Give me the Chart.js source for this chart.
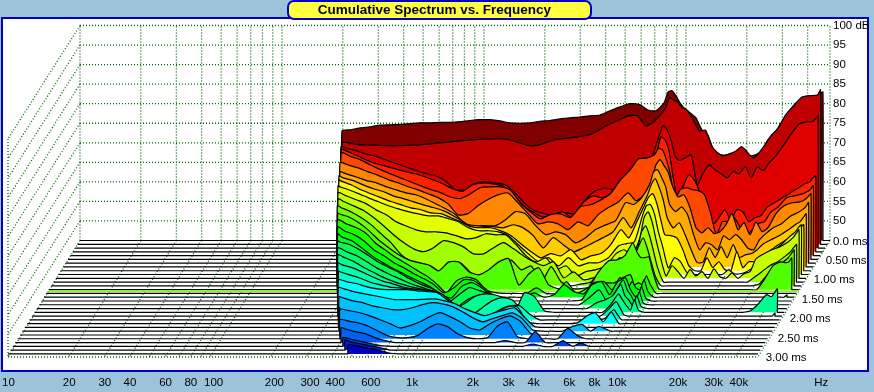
<!DOCTYPE html>
<html><head><meta charset="utf-8"><style>html,body{margin:0;padding:0;background:#9DC3DB}canvas{display:block}</style>
<script src="https://cdn.jsdelivr.net/npm/chart.js@4"></script></head><body>
<canvas id="c" width="874" height="392"></canvas>
<script>
const hzTicks=[10,20,30,40,60,80,100,200,300,400,600,1000,2000,3000,4000,6000,8000,10000,20000,30000,40000,105000];
const hzLabels=['10','20','30','40','60','80','100','200','300','400','600','1k','2k','3k','4k','6k','8k','10k','20k','30k','40k','Hz'];
const dbTicks=[100,95,90,85,80,75,70,65,60,55,50];
const timeLabels=['0.0 ms','0.50 ms','1.00 ms','1.50 ms','2.00 ms','2.50 ms','3.00 ms'];
const timeTicks=[0,0.5,1,1.5,2,2.5,3];
const gridHz=[10,20,30,40,50,60,70,80,90,100,200,300,400,500,600,700,800,900,1000,2000,3000,4000,5000,6000,7000,8000,9000,10000,20000,30000,40000,51600];
const freqHz=[198,217,243,273,306,343,384,430,482,540,606,679,761,852,955,1070,1200,1345,1507,1689,1893,2122,2378,2665,2987,3348,3752,4205,4713,5282,5920,6485,7104,7782,8147,8525,8926,9340,9775,10466,11207,12002,12851,13761,14735,15780,16894,18090,19370,20747,22210,23780,25466,27270,29200,31990,35050,38420,42050,44510,46060,47650];
const startHz=[198,204,207,213,219,222,228,232,238,242,249,256,261,269,276,284,292,300,309,318,327,338,348,357,369,382,394,410,431,453,482];
const sliceColors=['#800000','#C00000','#E00000','#FF2000','#FF4800','#FF8800','#FFAA00','#FFCC00','#FFFF00','#E4FF00','#C8FF00','#A0FF00','#70FF00','#50FF00','#20FF00','#00FF00','#00FF30','#00FF50','#00FF70','#00FF90','#00FFB0','#00FFD0','#00FFFF','#00E0FF','#00C0FF','#00A0FF','#0080FF','#0060F0','#0040E0','#0020D0','#0000C0'];
const slice00=[73,73.3,73.8,74.1,74.5,74.6,74.7,74.9,75.1,75.1,75.2,75.2,75.4,75.7,75.9,75.9,75.6,75.1,75,75.1,75.5,75.7,76.1,76.4,76.6,76.9,77.1,78.2,79.2,80,79.7,78.4,78.2,80.2,83,83.3,82,80.2,78.9,77.7,76.4,73.3,71.9,67.9,66.9,66.9,67.4,68,68.5,66.7,67,67.9,70.8,72.3,74.6,77.7,80.2,81.7,82,81.9,82.5,83];
const slice01=[71,71,70.5,70.4,70.3,70.2,70.2,70.3,70.4,70.6,70.9,71.1,71.4,71.6,71.8,71.9,72,71.8,71.1,70.3,70.3,71.2,71.9,72.1,72.5,72.9,74,75.5,76.6,77.8,77.9,75.3,76.3,78.4,79.9,82.5,81.9,81.4,80.1,79.2,76.6,74,74.2,70.2,68.4,67.6,68.1,68.8,70,68.4,67.1,68.6,70.7,73,74.5,78.1,80.4,82.6,83,83.1,83.2,84.5];
const slice02=[70.9,70.6,70,69.1,68.5,67.6,66.7,65.8,64.9,64.1,63.5,62.2,60,59.9,61.5,62,61.6,61.2,59.1,56.3,54.5,53.8,53,54,53.8,57.3,59.6,60.3,59.9,61.2,66.8,68,68.2,73.7,76.3,75.2,72.5,68.4,67.4,68.1,68.9,61.2,64.2,66.3,65,64,63,64.6,64,65.8,63,65.8,64.8,66.8,68.4,71.2,74.2,76.8,77.3,77.3,78,78.8];
const slice03=[71.3,71.2,70.1,68.9,67.8,67.1,66.4,65.7,65.1,64.4,63.4,62.4,61.1,60.5,62.2,62.6,62.4,61.8,59.9,57,55.2,53.9,54.5,55.2,53.7,57.5,59.3,58.8,60.4,63.4,66,67.5,68,70.6,74.4,73.7,71.1,64.7,59.6,61.6,64.7,63.2,59.6,55.2,51.9,53.7,55.8,53.2,55.8,55.2,52.7,53.7,54.2,56.3,57.3,58.6,59.8,61.1,62.4,62.9,63.9,64.4];
const slice04=[null,71.3,70.4,69.5,68.2,67,65.9,64.9,63.9,62.9,61.9,61.1,60,59.6,60.8,62.4,62.6,62.6,61.8,58.5,56.2,54.4,55.5,55.7,54.7,57.5,58,59.2,60.8,64.4,67,69.8,69.9,70.8,72.4,72.1,69.5,65.7,59.3,61.9,62.4,61.9,61.6,60.6,56,50.3,53.7,53.7,54.7,52.1,50.3,51.6,53.2,53.7,56,57.5,59.8,60.3,60.8,61.4,61.9,62.9];
const slice05=[null,69.7,69.2,68.4,67.4,66.5,65.4,64.6,63.6,62.8,61.8,60.8,59.2,56.4,56.7,58.7,60.3,61.5,62,59.5,56.7,54.1,54.6,54.1,52.6,54.6,53.6,56.4,58.2,59.6,62,60,61.5,65.6,69.2,70.5,69,67.4,64.1,61,61.5,58.2,53.1,51.8,53.1,51.6,52.1,53.9,56.7,52.6,54.4,51.3,54.6,52.1,53.1,56.7,58.7,59.5,59.7,60.3,61,61.8];
const slice06=[null,68.4,67.9,67.1,66.2,65.6,64.6,63.8,63,62.5,61.5,60.2,58.9,57.4,55.1,54.6,54.6,54.6,56.1,58.2,57.6,54.6,52.3,53,52.3,50.2,51.5,53.6,54.8,55.9,60.5,60,61.7,65.1,68.4,68.9,66.9,64.6,60,58.2,59.4,57.4,52.3,48.4,50.2,49.7,48.4,52,51,52.3,51,48.9,48.4,51,52.5,54.1,55.1,56.9,57.9,58.7,59.4,60.5];
const slice07=[null,68.3,67.8,67.1,66,65,64.3,63.2,62.5,61.7,60.9,60.2,59.4,58.1,56.6,55,55.3,55.3,55,55.8,55,53,49.9,52.5,50.7,48.9,49.9,51.2,52.5,54,57.6,55,59.1,63.2,66,67.6,65.3,62.2,57.6,55,56.3,53.2,49.4,46.1,46.3,49.9,47.4,50.2,47.4,50.7,47.4,48.1,48.4,49.4,50.9,52,53,54.3,55.8,56.6,57.6,58.6];
const slice08=[null,68.3,68,67,65.7,64.7,63.7,62.7,61.9,61.1,60.6,59.8,59.6,58.6,57.5,56.3,56,56,55.2,54,51.9,49.9,48.3,49.4,48.8,50.4,47.8,48.8,49.4,51.7,55.5,53.4,57.5,61.9,63.9,64.7,62.2,58,54.2,54,53.4,50.4,46.3,45,45,48.3,45.8,47.3,45.3,45,49.9,45.8,47.3,47.3,48.3,49.9,51.4,52.7,54,55,56,56.8];
const slice09=[null,67.7,67.6,66.7,65.7,64.6,63.6,62.6,61.8,61.1,60.5,60,60,59.3,58.5,57,56.2,56.2,55.9,54.9,52.6,50.3,48.3,49.3,47.2,49.3,47.2,48,48,49.3,52.3,52.9,53.4,60,62.6,62.9,60.5,55.9,52.4,46.7,49.3,48.3,45.7,45,45,45,45,45,45,46.2,45.2,45.2,45.7,46.7,48.3,49.3,51.3,52.9,54.9,55.9,57,57.7];
const slice10=[null,null,66.9,66.1,65.1,64.1,62.5,61.3,59.5,58.4,57.4,56.9,56.9,56.6,55.9,55.1,55.4,56.4,56.1,56.1,53.6,50.8,49.2,50.2,47.2,48.2,45.6,46.7,47.2,48.2,51.3,52.3,50.8,55.4,60.5,62,59.5,54.9,50.8,45.6,48.2,46.7,45,47.2,45.6,46.7,45,47.4,45.4,45,46.4,45,46.2,46.7,50,51.3,52.3,53.1,54.3,55.4,56.4,57.4];
const slice11=[null,null,66.3,65.6,64.5,63.3,61.5,59.4,57.1,55.1,53.5,52.8,53.8,55.6,55.1,54,52.2,52.2,53.8,55.1,53.5,51.7,50.2,49.2,50.2,46.1,47.6,45.6,46.1,47.1,49.4,51.2,50.2,53.8,57.9,59.4,56.8,52.8,48.7,45,45,45,45,45,45,45,45,45,45,45,45,45,45,45,46.1,47.6,49.2,50.2,51.7,52.8,53.8,54.6];
const slice12=[null,null,65.5,65,63.9,62.4,60.6,58.3,56,53,51.3,50.6,50,48.5,50.8,50.8,48.3,47.5,48.8,50.8,51.6,49.1,50.1,46,49.9,46,45,45.5,46,49.1,48.6,52.2,50.6,53.2,55.5,57.3,54.7,51.1,47.6,45,45,45,45,45,45,45,45,45,45,45,45,45,45,45,45,45.5,47.8,49.6,51.1,52.2,53.2,54.2];
const slice13=[null,null,64.7,64.4,63.6,62.1,60.1,57.7,55.7,53.9,52.6,51.9,51.3,49.8,52.1,52.1,49.6,48.8,50.1,52.1,52.9,46.2,49,50.6,46.2,45.2,45.2,45.2,45.7,49.6,52.4,52.6,53.7,57,54.7,53.2,53.2,53.4,49.6,45.2,45,45,45,45,45,45,45,45,45,45,45,45,45,45,45,45,47.8,51.1,52.1,51.9,52.1,53.1];
const slice14=[null,null,null,63.8,62.8,61.8,60.3,57.7,55.9,54.1,52.6,51,49.5,47.5,45.2,48.2,49.2,48.5,45.9,45.2,45,45,45,46.4,45,45,48,45,46.2,47.2,47.7,47.7,49,49.8,47.2,47.7,47.2,49.5,47.2];
const slice15=[null,null,null,63,62,61,59.4,57.1,55.6,53.8,52.5,51,49.7,48.2,46.1,47.4,49.5,49.2,47.4,45.4,45,45,45,46.1,45,45.6,48.2,46.4,45.9,48.7,49,46.9,50,47.4,49,47.4,46.9,49.5,46.4,45,45,45,45,45,45,45,45,45,45,45,45,45,45,45,45,45,45,45,45,45,45,45.6];
const slice16=[null,null,null,62.2,61.4,60.4,58.6,56.6,55,53.5,52.2,50.9,49.7,48.4,46.6,45.8,48.7,49.7,48.4,46.3,45,45,45,45,45,45,45,45,45.3,49.1,49.9,46.6,49.9,50.9,48.4,46.6,45.8,48.7,45.8];
const slice17=[null,null,null,61.4,61.1,60.4,59.1,57.5,55.8,54.5,53.2,51.7,50.4,49.4,48.1,45.8,47.6,49.4,48.6,47.8,45.5,45,45,45,45,45,45,45,45,46.8,48.8,45.8,48.3,51.4,48.8,47.3,45.5,48.3,45.5];
const slice18=[null,null,null,null,60.5,59.5,58.5,57,55.4,54.1,52.9,51.8,50.8,50,49,45.9,45.4,47.2,48.3,48.5,47.2,45.2,45,45,45,45,45,45,45,45,46.5,47.2,48.3,51.1,48.3,47.2,45.7,48.3,45.7];
const slice19=[null,null,null,null,59.7,59,57.9,56.4,55.1,53.8,52.8,52,51.3,50.8,49.7,48.2,46.2,47.2,49,49.7,49.5,48.5,45,50,49,45.4,45,45,45,45,45,45,46.9,49.7,48.2,46.7,45.6,48.2,45.6,45,45,45,45,45,45,45,45,45,45,45,45,45,45,45,45,45,45.4,47.2,49.5,49,50,51];
const slice20=[null,null,null,null,58.6,58.1,57.4,56.3,55.1,54,53.3,52.5,52,51.7,51.5,50.2,47.6,45,45.3,47.1,48.9,49.7,49.2,46.6,45,45,45,45,45,45,45,45,46.6,48.7,47.1,45.3,45,45,45,45,45,45,45,45,45,45,45,45,45,45,45,45,45,45,45,45,45,45,45,45,45,45.8];
const slice21=[null,null,null,null,57.5,57.3,56.5,55.7,54.7,54,53.4,53.2,52.9,52.7,52.4,51.9,50.1,47.6,45.5,45.5,46,47.6,48.6,48.6,46.5,45,45,45,45,45,45,45,45.5,47.6,46.3];
const slice22=[null,null,null,null,null,56.2,55.7,55.2,54.4,53.9,53.7,53.7,53.7,53.4,53.2,52.9,51.1,49.1,46.5,45.2,46.5,48,49.3,49.3,45.5,45,45,45,45,45.2,47,47.8,45.5,48,46.5];
const slice23=[null,null,null,null,null,55.2,54.8,54.1,53.6,53.1,52.6,52.1,52.1,52.1,52.2,52.3,51.8,51.1,49.8,48.8,48,48.8,49.5,50,47.5,45.2];
const slice24=[null,null,null,null,null,53.8,53.6,52.8,52.3,51.5,51,50.5,50.5,51,51.8,52.3,52,51.3,50,48.5,47.4,48.2,49,49.7,48.2,45.4,45,45,45,46.2,46.7,45,46.2,45.5];
const slice25=[null,null,null,null,null,52,51.7,51.2,50.7,49.9,48.9,47.9,46.8,47.4,48.4,49.7,50.7,49.7,48.4,46.8,46.3,47.9,49.1,49.9,48.6,45.6];
const slice26=[null,null,null,null,null,null,49.9,49.6,49.1,48.3,47,45.8,45.3,45.3,45.8,47.6,48.8,48.1,46.3,45.3,45,45.3,48.3,49.3,45.5,45,45,45,45,47.6,45.8];
const slice27=[null,null,null,null,null,null,48.8,48.5,47.8,47.3,46.2,45.5,45,45,45,45,45,45,45,45,45,45,45,45.5,45,45,47.8];
const slice28=[null,null,null,null,null,null,null,47.2,46.7,46.2,45.6,45.1,45,45,45,45,45,45,45,45,45,45,45,45,45,45,45.6,45,45,46.4,45,45.9];
const slice29=[null,null,null,null,null,null,null,47.6,47.1,46.6,46.1,45.6];
const slice30=[null,null,null,null,null,null,null,null,47.3,47,46.5,46,45.3];
const slices=[slice00,slice01,slice02,slice03,slice04,slice05,slice06,slice07,slice08,slice09,slice10,slice11,slice12,slice13,slice14,slice15,slice16,slice17,slice18,slice19,slice20,slice21,slice22,slice23,slice24,slice25,slice26,slice27,slice28,slice29,slice30];

const FLOOR_DB=45, DB_PER_MS=9.668, DECADES_PER_MS=0.1188, MS_PER_SLICE=0.1, X_MIN=10, X_MAX=117300, Y_MIN=15.2, Y_MAX=100, WALL_END_HZ=51600, ACCENT_SLICE=13, CORNER=1.004;
const px=(hz,ms)=>hz*Math.pow(10,DECADES_PER_MS*(3-ms));
const py=(db,ms)=>db-DB_PER_MS*ms;

const sliceDatasets=slices.map((row,i)=>{
  const ms=i*MS_PER_SLICE, floor=py(FLOOR_DB,ms), endHz=freqHz[freqHz.length-1];
  const pts=[{x:px(10,ms),y:floor},{x:px(startHz[i]/CORNER,ms),y:floor},{x:px(startHz[i],ms),y:floor}];
  let started=false;
  freqHz.forEach((hz,c)=>{
    const v=row[c];
    if(v===null) return;
    const db=v===undefined?FLOOR_DB:Math.max(v,FLOOR_DB);
    if(!started){pts.push({x:px(startHz[i],ms),y:py(db,ms)});started=true;return;}
    if(hz>startHz[i]) pts.push({x:px(hz,ms),y:py(db,ms)});
  });
  pts.push({x:px(endHz,ms),y:floor},{x:px(endHz*CORNER,ms),y:floor},{x:px(WALL_END_HZ,ms),y:floor});
  return {data:pts,borderColor:'#000',borderWidth:1.2,backgroundColor:sliceColors[i],fill:{value:floor},pointRadius:0,tension:0.2,order:30-i,clip:false,borderJoinStyle:'bevel'};
});
const accentMs=ACCENT_SLICE*MS_PER_SLICE;
const accent={data:[{x:px(10,accentMs),y:py(FLOOR_DB,accentMs)-0.4},{x:px(WALL_END_HZ,accentMs),y:py(FLOOR_DB,accentMs)-0.4}],borderColor:'#80FF00',borderWidth:1.6,pointRadius:0,fill:false,order:30-ACCENT_SLICE-0.5,clip:false};

const gap={x:10,y:NaN};
const wallPts=[];
dbTicks.forEach(d=>{wallPts.push({x:px(10,0),y:d},{x:px(WALL_END_HZ,0),y:d},gap);});
gridHz.forEach(h=>{wallPts.push({x:px(h,0),y:FLOOR_DB},{x:px(h,0),y:Y_MAX},gap);});
const sidePts=[];
dbTicks.forEach(d=>{sidePts.push({x:px(10,0),y:d},{x:px(10,3),y:py(d,3)},gap);});
sidePts.push({x:px(10,3),y:py(100,3)},{x:px(10,3),y:Y_MIN},gap);
sidePts.push({x:px(10,3),y:Y_MIN},{x:px(WALL_END_HZ,3),y:Y_MIN},gap);
gridHz.forEach(h=>{sidePts.push({x:px(h,0),y:FLOOR_DB},{x:px(h,3),y:Y_MIN},gap);});
const gridStyle={borderColor:'#006800',borderWidth:1.3,borderDash:[1,2],pointRadius:0,fill:false,order:100,clip:false,spanGaps:false,tension:0};

const LABEL_FONT='11.5px "Liberation Sans"';
const frame={id:'frame',
  beforeDraw(ch){
    const c=ch.ctx;
    c.save();
    c.fillStyle='#9DC3DB';c.fillRect(0,0,874,392);
    c.fillStyle='#fff';c.fillRect(1,17,868,355);
    c.strokeStyle='#0000CC';c.lineWidth=2;c.strokeRect(2,18,866,353);
    c.fillStyle='#FFFF40';c.beginPath();c.roundRect(288,1,303,18,6);c.fill();c.stroke();
    c.restore();
    ch.titleBlock.left=0;ch.titleBlock.right=868.6;
  },
  afterDatasetsDraw(ch){
    const c=ch.ctx,xs=ch.scales.x,ys=ch.scales.y;
    c.save();c.fillStyle='#000';c.font=LABEL_FONT;c.textBaseline='middle';c.textAlign='left';
    timeTicks.forEach((t,k)=>{
      c.fillText(timeLabels[k],xs.getPixelForValue(px(WALL_END_HZ,t))+(t===0?3:7.7),ys.getPixelForValue(py(FLOOR_DB,t))+1+t);
    });
    c.restore();
  }};

new Chart(document.getElementById('c'),{
  type:'line',
  data:{datasets:[{...gridStyle,data:wallPts},{...gridStyle,data:sidePts},accent,...sliceDatasets]},
  plugins:[frame],
  options:{responsive:false,animation:false,events:[],
    layout:{autoPadding:false,padding:{left:8,right:0,top:0,bottom:0}},
    plugins:{legend:{display:false},tooltip:{enabled:false},
      title:{display:true,text:'Cumulative Spectrum vs. Frequency',color:'#000030',font:{family:'"Liberation Sans"',size:13.5,weight:'bold',lineHeight:1.2},padding:{top:2,bottom:7.3}}},
    scales:{
      x:{type:'logarithmic',min:X_MIN,max:X_MAX,grid:{display:false,drawTicks:false},border:{display:false},
        afterBuildTicks(s){s.ticks=hzTicks.map(value=>({value}));},
        afterFit(s){s.height=35;s.paddingLeft=0;s.paddingRight=0;},
        ticks:{autoSkip:false,maxRotation:0,minRotation:0,padding:19,align:'start',labelOffset:-6,color:'#000',font:{family:'"Liberation Sans"',size:11.5},callback:(v,i)=>hzLabels[i]}},
      y:{type:'linear',position:'right',min:Y_MIN,max:Y_MAX,grid:{display:false,drawTicks:false},border:{display:false},
        afterBuildTicks(s){s.ticks=dbTicks.map(value=>({value}));},
        afterFit(s){s.width=44;s.paddingTop=0;s.paddingBottom=0;},
        ticks:{autoSkip:false,padding:3,color:'#000',font:{family:'"Liberation Sans"',size:11.5},callback:v=>v===100?'100 dB':String(v)}}
    }}
});
</script></body></html>
